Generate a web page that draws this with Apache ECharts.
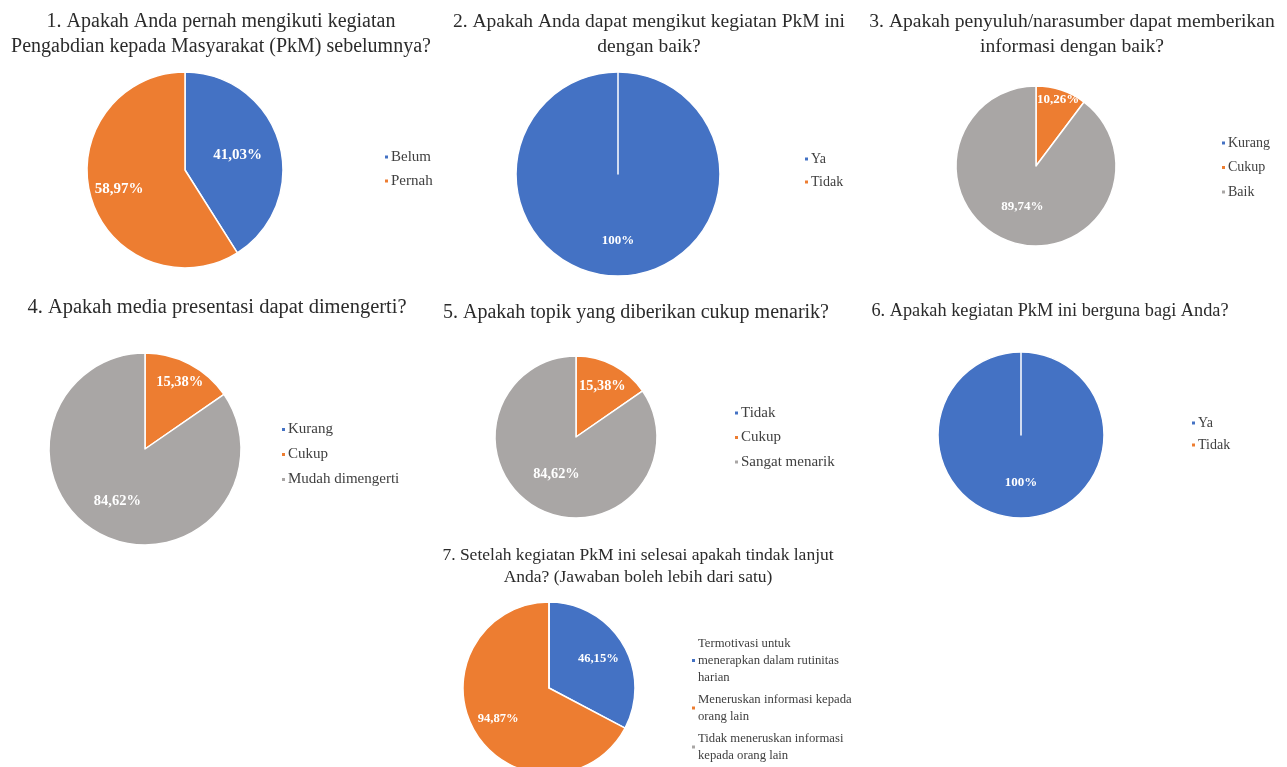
<!DOCTYPE html>
<html>
<head>
<meta charset="utf-8">
<title>Hasil Kuesioner PkM</title>
<script src="https://cdn.jsdelivr.net/npm/echarts@6/dist/echarts.min.js"></script>
<style>
  html, body { margin: 0; padding: 0; background: #fff; }
  #chart { width: 1287px; height: 767px; }
</style>
</head>
<body>
<div id="chart"></div>
<script>
  // judul tiap pertanyaan
  const titles = [
    '1. Apakah Anda pernah mengikuti kegiatan\nPengabdian kepada Masyarakat (PkM) sebelumnya?',
    '2. Apakah Anda dapat mengikut kegiatan PkM ini\ndengan baik?',
    '3. Apakah penyuluh/narasumber dapat memberikan\ninformasi dengan baik?',
    '4. Apakah media presentasi dapat dimengerti?',
    '5. Apakah topik yang diberikan cukup menarik?',
    '6. Apakah kegiatan PkM ini berguna bagi Anda?',
    '7. Setelah kegiatan PkM ini selesai apakah tindak lanjut\nAnda? (Jawaban boleh lebih dari satu)'
  ]

  // data (persen)
  const q1Names = ['Belum', 'Pernah']
  const q1Values = [41.03, 58.97]
  const q2Names = ['Ya', 'Tidak']
  const q2Values = [100, 0]
  const q3Names = ['Kurang', 'Cukup', 'Baik']
  const q3Values = [0, 10.26, 89.74]
  const q4Names = ['Kurang', 'Cukup', 'Mudah dimengerti']
  const q4Values = [0, 15.38, 84.62]
  const q5Names = ['Tidak', 'Cukup', 'Sangat menarik']
  const q5Values = [0, 15.38, 84.62]
  const q6Names = ['Ya', 'Tidak']
  const q6Values = [100, 0]
  const q7Names = [
    'Termotivasi untuk menerapkan dalam rutinitas harian',
    'Meneruskan informasi kepada orang lain',
    'Tidak meneruskan informasi kepada orang lain'
  ]
  const q7Values = [46.15, 94.87, 0]
  // teks legenda dengan pemenggalan baris seperti aslinya
  const q7LegendText = [
    'Termotivasi untuk\nmenerapkan dalam rutinitas\nharian',
    'Meneruskan informasi kepada\norang lain',
    'Tidak meneruskan informasi\nkepada orang lain'
  ]

  const sliceColors = ['#4472C4', '#ED7D31', '#A9A6A5']
  const serif = '"Liberation Serif", "Times New Roman", serif'

  // posisi tiap panel
  const panels = [
    { title: titles[0], names: q1Names, values: q1Values, center: [185, 170], radius: 98,
      titleX: 221, titleY: 9, titleSize: 20, titleLH: 25,
      legendX: 383, legendY: 149, legendSize: 15, legendLH: 16, legendGap: 8,
      labelSize: 15, labelDist: [0.56, 0.7] },
    { title: titles[1], names: q2Names, values: q2Values, center: [618, 174], radius: 102,
      titleX: 649, titleY: 9, titleSize: 19.5, titleLH: 25,
      legendX: 803, legendY: 151, legendSize: 14, legendLH: 16, legendGap: 7,
      labelSize: 13, labelDist: [0.65, 0] },
    { title: titles[2], names: q3Names, values: q3Values, center: [1036, 166], radius: 80,
      titleX: 1072, titleY: 9, titleSize: 19.6, titleLH: 25,
      legendX: 1220, legendY: 135, legendSize: 14, legendLH: 16, legendGap: 8.5,
      labelSize: 13, labelDist: [0, 0.87, 0.54] },
    { title: titles[3], names: q4Names, values: q4Values, center: [145, 449], radius: 96,
      titleX: 217, titleY: 295, titleSize: 20.5, titleLH: 25,
      legendX: 280, legendY: 421, legendSize: 15, legendLH: 17, legendGap: 8,
      labelSize: 14.5, labelDist: [0, 0.78, 0.62] },
    { title: titles[4], names: q5Names, values: q5Values, center: [576, 437], radius: 81,
      titleX: 636, titleY: 300, titleSize: 20, titleLH: 25,
      legendX: 733, legendY: 405, legendSize: 15, legendLH: 16, legendGap: 8.5,
      labelSize: 14.3, labelDist: [0, 0.7, 0.52] },
    { title: titles[5], names: q6Names, values: q6Values, center: [1021, 435], radius: 83,
      titleX: 1050, titleY: 299, titleSize: 18.3, titleLH: 25,
      legendX: 1190, legendY: 415, legendSize: 14, legendLH: 16, legendGap: 6,
      labelSize: 13, labelDist: [0.57, 0] },
    { title: titles[6], names: q7Names, values: q7Values, center: [549, 688], radius: 86,
      titleX: 638, titleY: 544, titleSize: 17.5, titleLH: 22,
      legendX: 690, legendY: 635, legendSize: 12.7, legendLH: 17, legendGap: 5,
      legendText: q7LegendText,
      labelSize: 12.6, labelDist: [0.67, 0.69, 0] }
  ]

  // 41.03 -> "41,03%", 100 -> "100%"
  function fmtPct(v) {
    return (v % 1 === 0 ? String(v) : v.toFixed(2).replace('.', ',')) + '%'
  }

  // letak label di tengah sudut irisan
  function labelSpot(p, i) {
    const total = p.values.reduce((a, b) => a + b, 0)
    let before = 0
    for (let k = 0; k < i; k++) before += p.values[k]
    const mid = (before + p.values[i] / 2) / total * Math.PI * 2
    const r = p.radius * p.labelDist[i]
    return {
      x: p.center[0] + r * Math.sin(mid),
      y: p.center[1] - r * Math.cos(mid)
    }
  }

  const chart = echarts.init(document.getElementById('chart'))

  chart.setOption({
    animation: false,
    backgroundColor: '#fff',
    title: panels.map(p => ({
      text: p.title,
      left: p.titleX,
      top: p.titleY,
      textAlign: 'center',
      padding: 0,
      textStyle: {
        fontFamily: serif,
        fontSize: p.titleSize,
        fontWeight: 'normal',
        lineHeight: p.titleLH,
        color: '#2b2b2b'
      }
    })),
    legend: panels.map(p => ({
      orient: 'vertical',
      left: p.legendX,
      top: p.legendY,
      padding: 0,
      icon: 'rect',
      itemWidth: 5,
      itemHeight: 5,
      itemGap: p.legendGap,
      selectedMode: false,
      data: p.names.map((n, i) => ({ name: n, itemStyle: { color: sliceColors[i] } })),
      formatter: name => p.legendText ? p.legendText[p.names.indexOf(name)] : name,
      textStyle: {
        fontFamily: serif,
        fontSize: p.legendSize,
        lineHeight: p.legendLH,
        padding: [0, 0, 0, -3],
        color: '#404040'
      }
    })),
    series: panels.map(p => ({
      type: 'pie',
      center: p.center,
      radius: p.radius,
      startAngle: 90,
      clockwise: true,
      avoidLabelOverlap: false,
      silent: true,
      itemStyle: { borderColor: '#fff', borderWidth: 1.5 },
      label: {
        show: true,
        position: 'inside',
        formatter: params => fmtPct(params.value),
        fontFamily: serif,
        fontSize: p.labelSize,
        fontWeight: 'bold',
        color: '#fff'
      },
      labelLine: { show: false },
      labelLayout: params => labelSpot(p, params.dataIndex),
      data: p.names.map((n, i) => ({
        name: n,
        value: p.values[i],
        itemStyle: { color: sliceColors[i] },
        label: { show: p.values[i] > 0 }
      }))
    }))
  })

  window.addEventListener('resize', () => {
    chart.resize()
  })
</script>
</body>
</html>
